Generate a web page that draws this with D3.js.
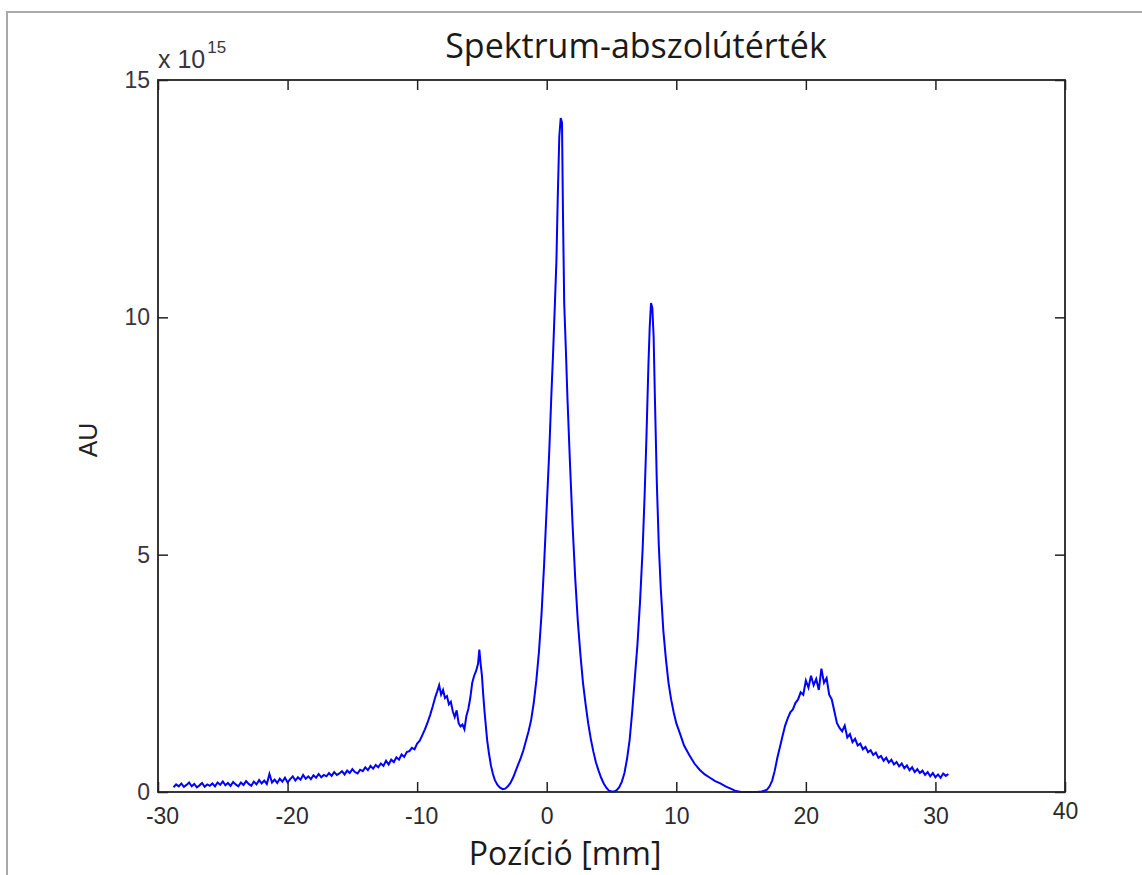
<!DOCTYPE html>
<html>
<head>
<meta charset="utf-8">
<script src="https://cdnjs.cloudflare.com/ajax/libs/d3/7.8.5/d3.min.js"></script>
<style>
body { margin: 0; background: #fff; }
svg { display: block; }
.tick line { stroke: #222; stroke-width: 1.5; }
.x-ticks text { font-family: 'Liberation Sans', Arial, sans-serif; font-size: 23px; fill: #2b2b2b; }
.y-ticks text { font-family: 'Liberation Sans', Arial, sans-serif; font-size: 23px; fill: #3a3340; }
</style>
</head>
<body>
<svg id="chart"></svg>
<script>
'use strict';

var chart_title = 'Spektrum-abszolútérték';
var x_title = 'Pozíció [mm]';
var y_title = 'AU';
var x_ticks = [-30, -20, -10, 0, 10, 20, 30, 40];
var y_ticks = [0, 5, 10, 15];

// position along the scan, mm
var position_mm = [
  -28.8, -28.6, -28.4, -28.2, -28.0, -27.8, -27.6, -27.4, -27.2, -27.0,
  -26.8, -26.6, -26.4, -26.2, -26.0, -25.8, -25.6, -25.4, -25.2, -25.0,
  -24.8, -24.6, -24.4, -24.2, -24.0, -23.8, -23.6, -23.4, -23.2, -23.0,
  -22.8, -22.6, -22.4, -22.2, -22.0, -21.8, -21.6, -21.4, -21.2, -21.0,
  -20.8, -20.6, -20.4, -20.2, -20.0, -19.8, -19.6, -19.4, -19.2, -19.0,
  -18.8, -18.6, -18.4, -18.2, -18.0, -17.8, -17.6, -17.4, -17.2, -17.0,
  -16.8, -16.6, -16.4, -16.2, -16.0, -15.8, -15.6, -15.4, -15.2, -15.0,
  -14.8, -14.6, -14.4, -14.2, -14.0, -13.8, -13.6, -13.4, -13.2, -13.0,
  -12.8, -12.6, -12.4, -12.2, -12.0, -11.8, -11.6, -11.4, -11.2, -11.0,
  -10.8, -10.6, -10.4, -10.2, -10.0, -9.8, -9.6, -9.4, -9.2, -9.0,
  -8.8, -8.6, -8.45, -8.3, -8.15, -8.0, -7.85, -7.7, -7.55, -7.4,
  -7.25, -7.1, -6.95, -6.8, -6.65, -6.5, -6.35, -6.2, -6.05, -5.9,
  -5.75, -5.6, -5.45, -5.3, -5.2, -5.1, -5.0, -4.9, -4.8, -4.7,
  -4.6, -4.45, -4.3, -4.15, -4.0, -3.8, -3.6, -3.4, -3.2, -3.0,
  -2.8, -2.6, -2.4, -2.2, -2.0, -1.8, -1.6, -1.4, -1.2, -1.0,
  -0.8, -0.6, -0.4, -0.2, 0.0, 0.2, 0.35, 0.5, 0.62, 0.75,
  0.85, 0.97, 1.08, 1.18, 1.25, 1.35, 1.48, 1.6, 1.8, 2.0,
  2.2, 2.4, 2.6, 2.8, 3.0, 3.2, 3.4, 3.6, 3.8, 4.0,
  4.2, 4.4, 4.6, 4.8, 5.0, 5.2, 5.4, 5.6, 5.8, 6.0,
  6.2, 6.4, 6.6, 6.8, 7.0, 7.2, 7.4, 7.55, 7.7, 7.85,
  7.95, 8.05, 8.15, 8.25, 8.35, 8.5, 8.65, 8.8, 9.0, 9.2,
  9.4, 9.6, 9.8, 10.0, 10.3, 10.6, 11.0, 11.4, 11.8, 12.2,
  12.6, 13.0, 13.4, 13.8, 14.2, 14.6, 15.0, 15.4, 15.8, 16.2,
  16.6, 17.0, 17.2, 17.4, 17.6, 17.8, 18.0, 18.2, 18.4, 18.6,
  18.8, 19.0, 19.2, 19.4, 19.6, 19.8, 20.0, 20.2, 20.4, 20.6,
  20.8, 21.0, 21.2, 21.4, 21.6, 21.8, 22.0, 22.2, 22.4, 22.6,
  22.8, 23.0, 23.2, 23.4, 23.6, 23.8, 24.0, 24.2, 24.4, 24.6,
  24.8, 25.0, 25.2, 25.4, 25.6, 25.8, 26.0, 26.2, 26.4, 26.6,
  26.8, 27.0, 27.2, 27.4, 27.6, 27.8, 28.0, 28.2, 28.4, 28.6,
  28.8, 29.0, 29.2, 29.4, 29.6, 29.8, 30.0, 30.2, 30.4, 30.6,
  30.8, 31.0
];

// spectrum magnitude, units of 10^15
var magnitude = [
  0.10, 0.16, 0.12, 0.18, 0.11, 0.15, 0.20, 0.12, 0.17, 0.10,
  0.14, 0.19, 0.11, 0.16, 0.13, 0.18, 0.12, 0.20, 0.15, 0.22,
  0.14, 0.19, 0.13, 0.21, 0.16, 0.12, 0.20, 0.15, 0.23, 0.17,
  0.13, 0.22, 0.16, 0.25, 0.18, 0.24, 0.17, 0.38, 0.20, 0.26,
  0.19, 0.28, 0.22, 0.30, 0.20, 0.27, 0.33, 0.24, 0.31, 0.26,
  0.36, 0.28, 0.33, 0.27, 0.35, 0.30, 0.38, 0.31, 0.36, 0.33,
  0.40, 0.34, 0.42, 0.36, 0.39, 0.44, 0.37, 0.45, 0.40, 0.48,
  0.42, 0.39, 0.47, 0.44, 0.52, 0.46, 0.55, 0.49, 0.57, 0.52,
  0.60, 0.55, 0.66, 0.58, 0.68, 0.63, 0.73, 0.68, 0.79, 0.74,
  0.84, 0.86, 0.93, 0.90, 1.02, 1.08, 1.20, 1.32, 1.46, 1.62,
  1.80, 2.00, 2.12, 2.25, 2.05, 2.15, 1.98, 2.02, 1.85, 1.90,
  1.70, 1.58, 1.72, 1.45, 1.38, 1.42, 1.32, 1.60, 1.75, 1.98,
  2.30, 2.45, 2.55, 2.70, 3.00, 2.70, 2.45, 2.05, 1.70, 1.40,
  1.10, 0.80, 0.55, 0.38, 0.25, 0.15, 0.09, 0.06, 0.07, 0.12,
  0.19, 0.30, 0.44, 0.58, 0.72, 0.88, 1.08, 1.28, 1.52, 1.88,
  2.35, 2.95, 3.75, 4.80, 6.00, 7.20, 8.30, 9.30, 10.2, 11.2,
  12.5, 13.8, 14.2, 14.1, 12.3, 10.3, 9.3, 8.3, 6.9, 5.6,
  4.5, 3.6, 2.9, 2.3, 1.85, 1.45, 1.12, 0.85, 0.62, 0.45,
  0.30, 0.18, 0.09, 0.03, 0.01, 0.01, 0.04, 0.10, 0.22, 0.40,
  0.70, 1.10, 1.70, 2.40, 3.10, 4.00, 5.10, 6.20, 7.50, 9.00,
  9.80, 10.3, 10.2, 9.6, 8.3, 6.5, 5.2, 4.3, 3.4, 2.8,
  2.3, 1.95, 1.68, 1.45, 1.22, 0.98, 0.78, 0.60, 0.47, 0.37,
  0.30, 0.23, 0.18, 0.12, 0.07, 0.02, 0.00, 0.00, 0.00, 0.00,
  0.01, 0.05, 0.12, 0.24, 0.45, 0.72, 0.95, 1.18, 1.40, 1.55,
  1.68, 1.74, 1.88, 1.95, 2.10, 2.05, 2.35, 2.20, 2.45, 2.25,
  2.38, 2.15, 2.60, 2.30, 2.40, 2.05, 1.95, 1.70, 1.45, 1.35,
  1.28, 1.40, 1.15, 1.22, 1.05, 1.12, 0.98, 1.02, 0.90, 0.95,
  0.84, 0.88, 0.78, 0.83, 0.72, 0.76, 0.66, 0.72, 0.62, 0.68,
  0.58, 0.63, 0.54, 0.60, 0.50, 0.56, 0.46, 0.52, 0.42, 0.48,
  0.40, 0.45, 0.36, 0.42, 0.33, 0.40, 0.31, 0.37, 0.30, 0.39,
  0.34, 0.38
];

var width = 1142;
var height = 875;
var plot_left = 158;
var plot_right = 1065;
var plot_top = 80;
var plot_bottom = 792;
var tick_len = 10;

var svg = d3.select('#chart').attr('width', width).attr('height', height);

// figure frame
svg.append('rect').attr('x', 7).attr('y', 12).attr('width', width + 20).attr('height', height + 20)
    .style('fill', 'none').style('stroke', '#a9a9a9').style('stroke-width', 2);

var x = d3.scaleLinear().domain([-30, 40]).range([plot_left, plot_right]);
var y = d3.scaleLinear().domain([0, 15]).range([plot_bottom, plot_top]);

var points = d3.range(position_mm.length).map(function (i) {
    return [position_mm[i], magnitude[i]];
});

var line = d3.line().x(function (d) {
    return x(d[0]);
}).y(function (d) {
    return y(d[1]);
});

svg.append('path').datum(points).attr('d', line)
    .style('fill', 'none').style('stroke', '#0000ff').style('stroke-width', 2).style('stroke-linejoin', 'miter');

// plain hyphen for negatives, like the original
var plain = function (d) {
    return String(d);
};

// axes, ticks pointing inward
var x_axis = svg.append('g').attr('class', 'x-ticks').attr('transform', 'translate(0,' + plot_bottom + ')')
    .call(d3.axisBottom(x).tickValues(x_ticks).tickSizeInner(-tick_len).tickSizeOuter(0).tickPadding(16).tickFormat(plain));
x_axis.select('.domain').remove();
x_axis.selectAll('text').attr('dx', function (d) {
    return d < 0 ? 4 : 0;
});
x_axis.selectAll('text').filter(function (d) {
    return d === 40;
}).attr('y', 11);

svg.append('g').attr('transform', 'translate(0,' + plot_top + ')')
    .call(d3.axisTop(x).tickValues(x_ticks).tickSizeInner(-tick_len).tickSizeOuter(0).tickFormat(''))
    .select('.domain').remove();

var y_axis = svg.append('g').attr('class', 'y-ticks').attr('transform', 'translate(' + plot_left + ',0)')
    .call(d3.axisLeft(y).tickValues(y_ticks).tickSizeInner(-tick_len).tickSizeOuter(0).tickPadding(8).tickFormat(plain));
y_axis.select('.domain').remove();

svg.append('g').attr('transform', 'translate(' + plot_right + ',0)')
    .call(d3.axisRight(y).tickValues(y_ticks).tickSizeInner(-tick_len).tickSizeOuter(0).tickFormat(''))
    .select('.domain').remove();

svg.append('rect').attr('x', plot_left).attr('y', plot_top)
    .attr('width', plot_right - plot_left).attr('height', plot_bottom - plot_top)
    .style('fill', 'none').style('stroke', '#222').style('stroke-width', 1.8);

// exponent marker
var exponent = svg.append('text').attr('x', 158).attr('y', 68)
    .style('font-family', "'Liberation Sans', Arial, sans-serif").style('font-size', '25px').style('fill', '#3a3340');
exponent.append('tspan').text('x 10');
exponent.append('tspan').attr('dy', -15).attr('dx', 2).style('font-size', '17px').text('15');

svg.append('text').attr('x', 636).attr('y', 58).attr('text-anchor', 'middle')
    .style('font-family', "'Open Sans', sans-serif").style('font-size', '34px').style('fill', '#1a1a1a')
    .text(chart_title);

svg.append('text').attr('x', 565).attr('y', 865).attr('text-anchor', 'middle')
    .style('font-family', "'Open Sans', sans-serif").style('font-size', '32px').style('fill', '#1a1a1a')
    .text(x_title);

svg.append('text').attr('transform', 'translate(97,440) rotate(-90)').attr('text-anchor', 'middle')
    .style('font-family', "'Liberation Sans', Arial, sans-serif").style('font-size', '25px').style('fill', '#222')
    .text(y_title);
</script>
</body>
</html>
